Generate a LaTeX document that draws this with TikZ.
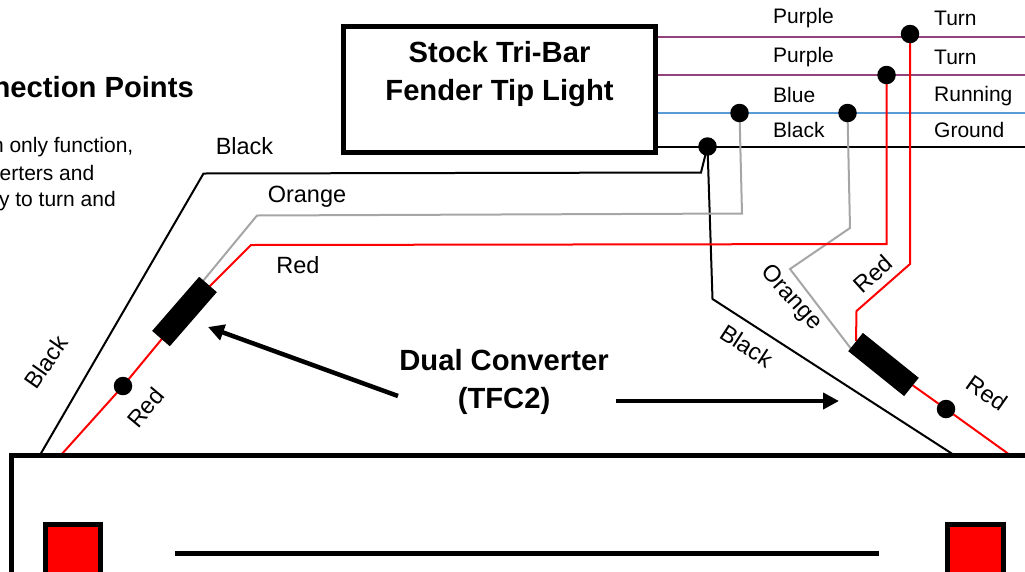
\documentclass[tikz,border=0pt]{standalone}
\usepackage{fontspec}
\setmainfont{Liberation Sans}
\usetikzlibrary{arrows.meta,backgrounds}
\definecolor{wpurple}{HTML}{94437A}
\definecolor{wblue}{HTML}{5B9BD5}
\definecolor{wgrey}{HTML}{A6A6A6}
\definecolor{wred}{HTML}{FF0000}
\tikzset{
  lab/.style={font=\fontsize{21}{25}\selectfont,inner sep=0pt,anchor=center},
  biglab/.style={font=\fontsize{23.5}{28}\selectfont,inner sep=0pt,anchor=center},
  head/.style={font=\fontsize{29.2}{38.5}\selectfont\bfseries,inner sep=0pt,align=center},
  dotn/.style={circle,fill=black,draw=none,minimum size=18.5pt,inner sep=0pt},
  conv/.style={rectangle,fill=black,draw=none,minimum width=71.7pt,minimum height=23.4pt,inner sep=0pt},
  wire/.style={line width=2pt,line join=miter},
  wireblack/.style={wire,draw=black},
  wirered/.style={wire,draw=wred},
  wiregrey/.style={wire,draw=wgrey},
  bigarrow/.style={line width=4.5pt,draw=black,-{Triangle[length=16pt,width=16pt]}},
  heavy/.style={line width=5pt,draw=black}
}
\begin{document}
\begin{tikzpicture}[x=1pt,y=-1pt]
\useasboundingbox (0,0) rectangle (1025,571);
\clip (0,0) rectangle (1025,571);
% named points
\coordinate (p1L) at (658,37);   \coordinate (p1R) at (1025,37);
\coordinate (p2L) at (658,75);   \coordinate (p2R) at (1025,75);
\coordinate (bL) at (658,113);   \coordinate (bR) at (1025,113);
\coordinate (kL) at (658,147);   \coordinate (kR) at (1025,147);
% title box
\node[draw=black,line width=5pt,minimum width=312pt,minimum height=126pt,inner sep=0pt] (tip) at (499,89.5) {};
\node[head] (tiptext) at (499.5,74) {Stock Tri-Bar\\Fender Tip Light};
% dots
\node[dotn] (d1) at (910,34) {};
\node[dotn] (d2) at (886.5,75) {};
\node[dotn] (d3) at (739.5,113) {};
\node[dotn] (d4) at (847.5,113) {};
\node[dotn] (d5) at (707.5,146.5) {};
\node[dotn] (d6) at (123,386) {};
\node[dotn] (d7) at (946,409) {};
% converters
\node[conv,rotate=49] (cl) at (184.5,311.5) {};
\node[conv,rotate=-38.8] (cr) at (883.5,364.5) {};
% lamp box
\draw[heavy] (11,575) -- (11,455.5) -- (1040,455.5);
\draw[heavy,fill=wred] (45,575) -- (45,524.5) -- (100.5,524.5) -- (100.5,575);
\draw[heavy,fill=wred] (947.5,575) -- (947.5,524.5) -- (1003.5,524.5) -- (1003.5,575);
\coordinate (barL) at (175,553.5); \coordinate (barR) at (879,553.5);
\draw[heavy] (barL) -- (barR);
\begin{scope}[on background layer]
  \draw[line width=2pt,draw=wpurple] (p1L) -- (p1R);
  \draw[line width=2pt,draw=wpurple] (p2L) -- (p2R);
  \draw[line width=2pt,draw=wblue] (bL) -- (bR);
  \draw[line width=2pt,draw=black] (kL) -- (kR);
  \draw[wireblack] (d5.center) -- (701,172.5) -- (203.5,173.5) -- (40,455);
  \draw[wireblack] (d5.center) -- (712.5,299) -- (954,455);
  \draw[wiregrey] (d3.center) -- (742,213.5) -- (257,215.5) -- (203,281);
  \draw[wiregrey] (d4.center) -- (850,228) -- (790,269) -- (852,350);
  \draw[wirered] (d2.center) -- (886.5,244) -- (251,245) -- (cl.center);
  \draw[wirered] (cl.center) -- (d6.center) -- (61,455);
  \draw[wirered] (d1.center) -- (910,264) -- (856.5,311) -- (856,341);
  \draw[wirered] (cr.center) -- (d7.center) -- (1010,455);
\end{scope}
% big arrows
\coordinate (al) at (398,396); \coordinate (alt) at (208,327);
\coordinate (ar) at (616,401); \coordinate (art) at (839,401);
\draw[bigarrow] (al) -- (alt);
\draw[bigarrow] (ar) -- (art);
% texts
\node[head] (dc) at (504,382) {Dual Converter\\(TFC2)};
\node[head,anchor=east] (cp) at (194,87) {nection Points};
\node[lab,anchor=east] (t1) at (133.5,147) {n only function,};
\node[lab,anchor=east] (t2) at (94.5,172.5) {erters and};
\node[lab,anchor=east] (t3) at (116,201) {y to turn and};
\node[lab,anchor=west] (a1) at (773,18) {Purple};
\node[lab,anchor=west] (a2) at (773,57) {Purple};
\node[lab,anchor=west] (a3) at (773,95) {Blue};
\node[lab,anchor=west] (a4) at (773,130) {Black};
\node[lab,anchor=west] (b1) at (934,18) {Turn};
\node[lab,anchor=west] (b2) at (934,57) {Turn};
\node[lab,anchor=west] (b3) at (934,96) {Running};
\node[lab,anchor=west] (b4) at (934,130) {Ground};
\node[biglab] (l1) at (244.5,146) {Black};
\node[biglab] (l2) at (307,197) {Orange};
\node[biglab] (l3) at (298,265) {Red};
\node[biglab,rotate=55] (l4) at (46,362) {Black};
\node[biglab,rotate=50] (l5) at (145.5,408) {Red};
\node[biglab,rotate=42] (l6) at (873,274) {Red};
\node[biglab,rotate=-48] (l7) at (791,298) {Orange};
\node[biglab,rotate=-33] (l8) at (747,346) {Black};
\node[biglab,rotate=-35] (l9) at (987,393) {Red};
\end{tikzpicture}
\end{document}
